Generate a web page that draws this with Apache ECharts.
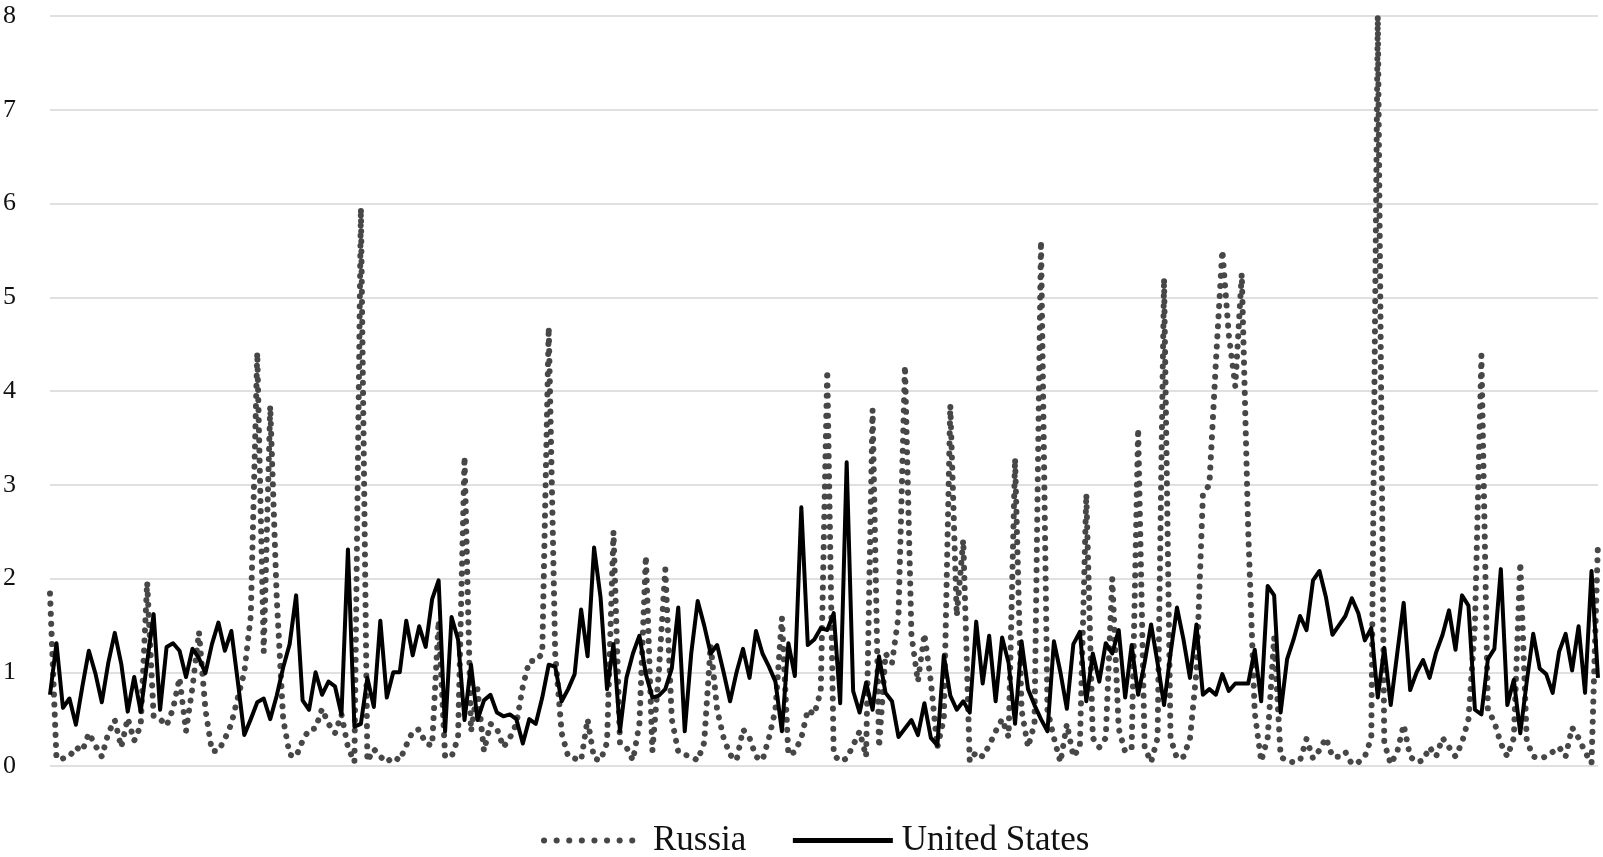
<!DOCTYPE html>
<html><head><meta charset="utf-8">
<script src="https://cdn.jsdelivr.net/npm/echarts@6/dist/echarts.min.js"></script>
<style>html,body{margin:0;padding:0;background:#fff}#c{width:1603px;height:857px}</style>
</head><body><div id="c"></div>
<script>
const categories = [];
for (let i = 1; i <= 240; i++) categories.push('P' + i);

const russia = [
1.84,0.08,0.08,0.1,0.2,0.16,0.35,0.22,0.1,0.35,
0.49,0.2,0.51,0.27,0.43,1.96,0.53,0.5,0.43,0.61,
0.94,0.37,0.84,1.43,0.6,0.16,0.16,0.29,0.45,0.73,
1.0,1.6,4.41,1.22,3.84,1.8,0.5,0.12,0.1,0.27,
0.39,0.4,0.61,0.45,0.35,0.55,0.2,0.04,5.95,0.05,
0.18,0.1,0.04,0.1,0.06,0.22,0.37,0.39,0.24,0.22,
1.55,0.1,0.1,0.3,3.3,0.37,0.82,0.16,0.45,0.4,
0.2,0.3,0.45,0.85,1.12,1.12,1.2,4.68,1.2,0.35,
0.1,0.08,0.06,0.5,0.08,0.06,0.25,2.5,0.25,0.2,
0.06,0.45,2.24,0.16,1.0,2.1,0.5,0.15,0.12,0.1,
0.06,0.25,1.29,0.6,0.3,0.12,0.06,0.39,0.3,0.1,
0.06,0.3,0.6,1.58,0.12,0.15,0.3,0.6,0.55,0.8,
4.22,0.12,0.05,0.08,0.22,0.37,0.1,3.8,0.2,1.2,
1.1,1.6,4.27,1.4,0.9,1.41,0.9,0.2,0.5,3.85,
1.6,2.41,0.05,0.15,0.1,0.22,0.37,0.5,0.31,3.28,
0.6,0.2,0.45,5.6,0.6,0.3,0.04,0.45,0.1,0.2,
2.9,0.3,0.2,0.3,2.0,0.4,0.15,0.2,3.6,0.2,
0.04,0.3,5.2,0.3,0.08,0.1,0.29,1.0,2.9,3.0,
4.3,5.5,4.6,4.05,5.25,2.5,0.57,0.05,0.3,1.37,
0.1,0.05,0.04,0.06,0.29,0.08,0.17,0.3,0.1,0.1,
0.15,0.02,0.04,0.1,0.3,8.0,0.25,0.02,0.15,0.44,
0.1,0.04,0.06,0.2,0.1,0.3,0.2,0.1,0.25,0.5,
1.5,4.38,0.6,0.47,0.24,0.1,0.3,2.17,0.27,0.1,
0.08,0.1,0.15,0.2,0.1,0.41,0.3,0.15,0.03,2.4
];

const unitedStates = [
0.76,1.31,0.62,0.72,0.44,0.85,1.23,0.99,0.68,1.1,
1.42,1.09,0.58,0.95,0.58,1.11,1.62,0.6,1.27,1.31,
1.23,0.95,1.25,1.15,0.99,1.3,1.53,1.23,1.44,0.9,
0.33,0.5,0.68,0.72,0.5,0.75,1.05,1.3,1.82,0.7,
0.6,1.0,0.76,0.9,0.85,0.55,2.31,0.42,0.45,0.94,
0.63,1.55,0.73,1.0,1.0,1.55,1.18,1.49,1.27,1.78,
1.98,0.37,1.59,1.35,0.49,1.08,0.49,0.7,0.76,0.57,
0.53,0.55,0.5,0.24,0.5,0.45,0.73,1.08,1.06,0.69,
0.82,0.98,1.67,1.17,2.33,1.8,0.82,1.3,0.37,0.94,
1.2,1.39,0.98,0.73,0.75,0.82,1.04,1.69,0.37,1.2,
1.76,1.5,1.2,1.29,1.0,0.69,1.0,1.25,0.94,1.44,
1.2,1.06,0.9,0.37,1.31,0.96,2.76,1.29,1.35,1.47,
1.45,1.63,0.67,3.24,0.8,0.57,0.89,0.6,1.17,0.78,
0.69,0.31,0.4,0.49,0.33,0.67,0.3,0.22,1.18,0.75,
0.6,0.69,0.57,1.54,0.88,1.39,0.69,1.37,1.1,0.45,
1.33,0.82,0.65,0.5,0.37,1.33,1.0,0.61,1.3,1.43,
0.69,1.2,0.9,1.31,1.2,1.45,0.73,1.29,0.76,1.1,
1.51,1.1,0.65,1.2,1.69,1.35,0.94,1.51,0.76,0.82,
0.76,0.98,0.8,0.88,0.88,0.88,1.24,0.69,1.92,1.82,
0.57,1.14,1.35,1.6,1.45,1.98,2.08,1.8,1.4,1.5,
1.6,1.79,1.63,1.34,1.47,0.73,1.26,0.65,1.2,1.74,
0.81,1.0,1.13,0.94,1.21,1.4,1.66,1.24,1.82,1.71,
0.6,0.55,1.14,1.25,2.1,0.65,0.92,0.35,0.9,1.41,
1.04,0.98,0.78,1.22,1.41,1.02,1.49,0.78,2.08,0.94
];

const yTicks = [0,1,2,3,4,5,6,7,8];
const seriesNames = ['Russia', 'United States'];

const chart = echarts.init(document.getElementById('c'), null, {renderer: 'canvas'});
chart.setOption({
  animation: false,
  backgroundColor: '#ffffff',
  grid: {left: 50, right: 5, top: 16, bottom: 91, containLabel: false},
  legend: {
    data: [
      {name: seriesNames[0], lineStyle: {color: '#474747', width: 6, type: [0.1, 12.5], cap: 'round'}},
      {name: seriesNames[1], lineStyle: {color: '#000000', width: 5, type: 'solid'}}
    ],
    top: 818,
    left: 536,
    itemWidth: 100,
    itemHeight: 14,
    itemGap: 44,
    itemStyle: {opacity: 0},
    textStyle: {fontFamily: 'Liberation Serif', fontSize: 35, color: '#111', padding: [0, 0, 0, 4]}
  },
  xAxis: {
    type: 'category',
    data: categories,
    boundaryGap: false,
    axisLine: {show: false},
    axisTick: {show: false},
    axisLabel: {show: false},
    splitLine: {show: false}
  },
  yAxis: {
    type: 'value',
    min: yTicks[0],
    max: yTicks[yTicks.length - 1],
    interval: 1,
    axisLine: {show: false},
    axisTick: {show: false},
    axisLabel: {fontFamily: 'Liberation Serif', fontSize: 26, color: '#111', margin: 34},
    splitLine: {lineStyle: {color: '#d6d6d6', width: 1.5}}
  },
  series: [
    {
      name: seriesNames[0],
      type: 'line',
      data: russia,
      symbol: 'none',
      showSymbol: false,
      color: '#474747',
      lineStyle: {color: '#474747', width: 6, type: [0.1, 10], cap: 'round', join: 'round'},
      z: 2
    },
    {
      name: seriesNames[1],
      type: 'line',
      data: unitedStates,
      symbol: 'none',
      showSymbol: false,
      color: '#000000',
      lineStyle: {color: '#000000', width: 4, join: 'round'},
      z: 3
    }
  ]
});
</script></body></html>
